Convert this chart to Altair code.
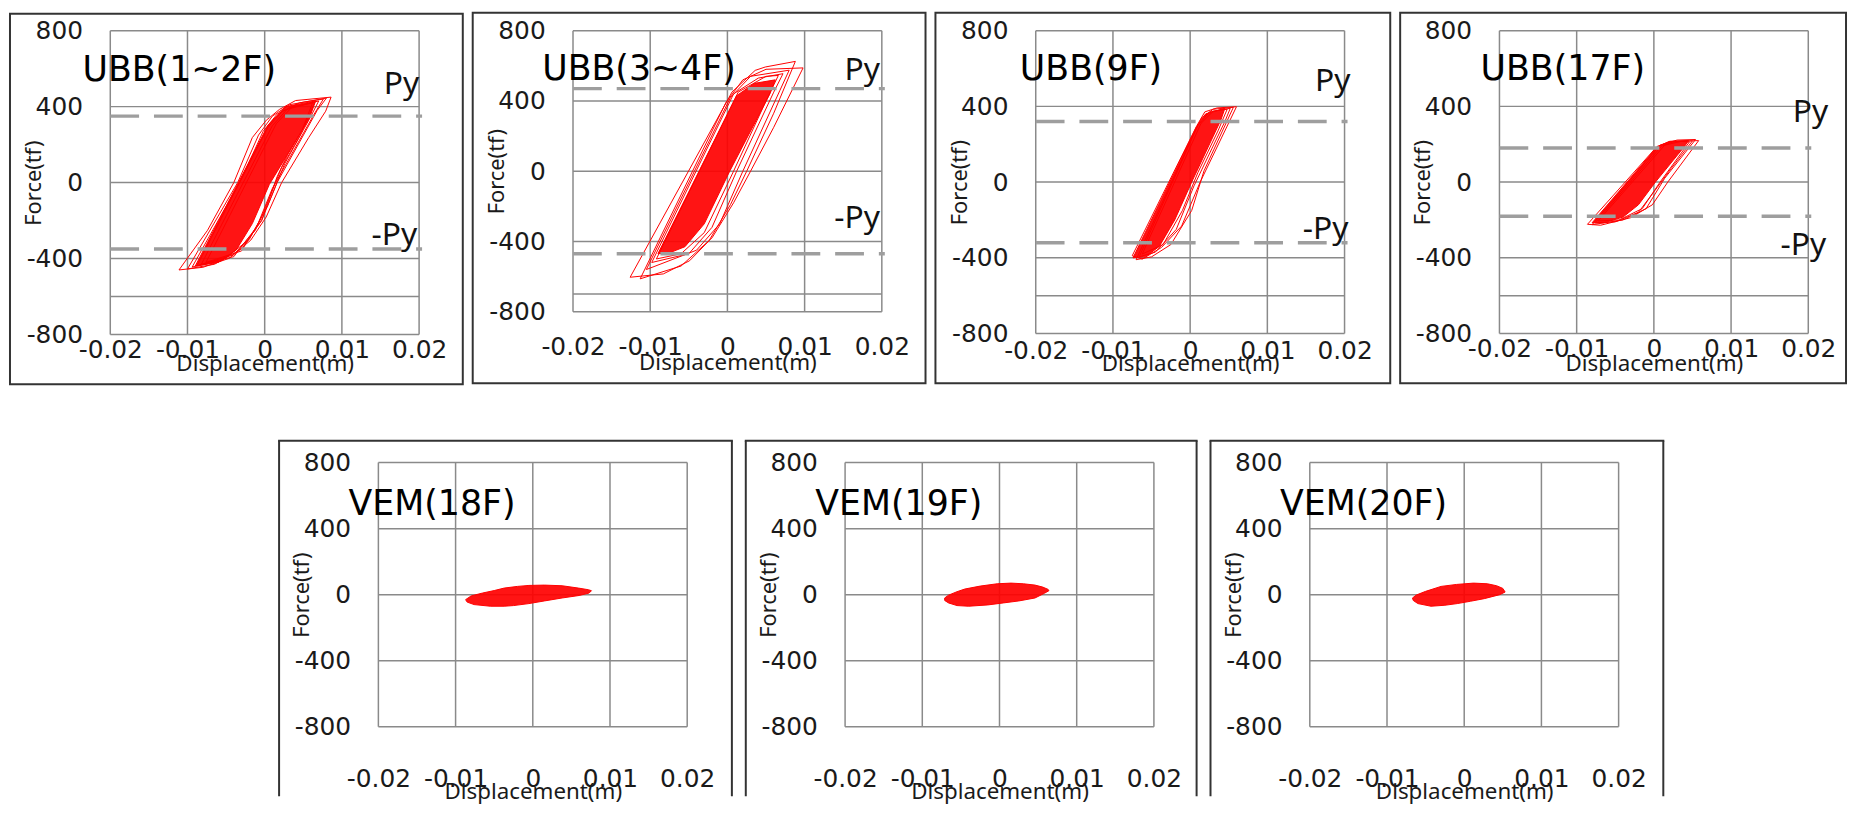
import altair as alt
import pandas as pd

# ---------------- data ----------------
X_TICKS = [-0.02, -0.01, 0.0, 0.01, 0.02]
Y_TICKS = [800, 400, 0, -400, -800]
Y_GRID_A = [800, 400, 0, -400, -600, -800]
Y_GRID_B = [800, 400, 0, -400, -700, -800]
Y_GRID_C = [800, 400, 0, -400, -800]

TITLES = ["UBB(1~2F)", "UBB(3~4F)", "UBB(9F)", "UBB(17F)", "VEM(18F)", "VEM(19F)", "VEM(20F)"]
PY = [350, 470, 320, 180]

UBB12_CORE = [(-0.0090, -440), (0.0004, 300), (0.0027, 400), (0.0066, 430), (0.0058, 340),
              (0.0006, -10), (-0.0016, -216), (-0.0037, -356), (-0.0060, -420), (-0.0090, -440)]
UBB12_LOOPS = [
    [(-0.0111, -460), (-0.0074, -251), (-0.0040, 0), (-0.0016, 237), (0.0002, 328), (0.0019, 385),
     (0.0040, 432), (0.0086, 450), (0.0079, 376), (0.0057, 237), (0.0022, 0), (0.0002, -181),
     (-0.0018, -303), (-0.0046, -399), (-0.0080, -446), (-0.0111, -460)],
    [(-0.0100, -455), (-0.0035, 0), (-0.0008, 250), (0.0010, 350), (0.0032, 410), (0.0080, 445),
     (0.0068, 380), (0.0016, 0), (-0.0004, -200), (-0.0030, -350), (-0.0065, -430), (-0.0100, -455)],
    [(-0.0094, -445), (-0.0030, 20), (-0.0002, 270), (0.0016, 360), (0.0045, 420), (0.0076, 440),
     (0.0064, 360), (0.0010, -30), (-0.0012, -250), (-0.0040, -380), (-0.0094, -445)],
    [(-0.0088, -440), (0.0004, 290), (0.0024, 380), (0.0070, 430), (0.0060, 350), (0.0026, 100),
     (0.0004, -120), (-0.0020, -300), (-0.0055, -410), (-0.0088, -440)],
    [(-0.0082, -430), (0.0010, 300), (0.0030, 390), (0.0065, 425), (0.0052, 300), (0.0030, 150),
     (0.0016, 30), (-0.0004, -200), (-0.0040, -390), (-0.0082, -430)],
    [(-0.0076, -420), (0.0015, 310), (0.0036, 400), (0.0062, 420), (0.0046, 250), (0.0022, 80),
     (-0.0006, -200), (-0.0030, -360), (-0.0076, -420)],
]

UBB34_CORE = [(-0.0090, -470), (0.0012, 430), (0.0035, 500), (0.0062, 520), (0.0055, 440),
              (0.0003, 0), (-0.0030, -300), (-0.0055, -430), (-0.0075, -465), (-0.0090, -470)]
UBB34_LOOPS = [
    [(-0.0126, -604), (0.0006, 451), (0.0036, 574), (0.0049, 593), (0.0088, 625), (0.0060, 330),
     (0.0025, 0), (0.0004, -190), (-0.0024, -397), (-0.0049, -510), (-0.0083, -585), (-0.0126, -604)],
    [(-0.0113, -613), (-0.0002, 390), (0.0020, 520), (0.0050, 580), (0.0098, 588), (0.0060, 250),
     (0.0030, 0), (0.0008, -180), (-0.0020, -380), (-0.0060, -540), (-0.0113, -613)],
    [(-0.0105, -560), (0.0004, 420), (0.0030, 540), (0.0080, 575), (0.0068, 460), (0.0020, 0),
     (-0.0010, -300), (-0.0040, -450), (-0.0105, -560)],
    [(-0.0098, -520), (0.0008, 440), (0.0040, 530), (0.0072, 555), (0.0060, 450), (0.0012, 0),
     (-0.0020, -320), (-0.0050, -470), (-0.0098, -520)],
    [(-0.0092, -500), (0.0014, 450), (0.0050, 540), (0.0066, 545), (0.0050, 400), (0.0008, 0),
     (-0.0030, -350), (-0.0060, -470), (-0.0092, -500)],
]

UBB9_CORE = [(-0.0074, -400), (0.0008, 290), (0.0020, 360), (0.0045, 390), (0.0040, 330),
             (0.0002, 0), (-0.0020, -200), (-0.0040, -340), (-0.0058, -395), (-0.0074, -400)]
UBB9_LOOPS = [
    [(-0.0075, -389), (0.0008, 293), (0.0019, 371), (0.0035, 392), (0.0060, 398), (0.0013, 0),
     (-0.0011, -232), (-0.0037, -345), (-0.0062, -407), (-0.0075, -389)],
    [(-0.0070, -410), (0.0004, 250), (0.0015, 340), (0.0030, 385), (0.0056, 395), (0.0018, 60),
     (0.0002, -150), (-0.0025, -330), (-0.0050, -395), (-0.0070, -410)],
    [(-0.0066, -395), (0.0010, 300), (0.0025, 370), (0.0052, 390), (0.0045, 320), (0.0005, -20),
     (-0.0018, -250), (-0.0045, -370), (-0.0066, -395)],
    [(-0.0062, -380), (0.0014, 310), (0.0030, 375), (0.0048, 385), (0.0036, 270), (0.0010, 50),
     (-0.0010, -150), (-0.0035, -330), (-0.0062, -380)],
]

UBB17_CORE = [(-0.0080, -215), (0.0004, 185), (0.0020, 215), (0.0045, 220), (0.0040, 190),
              (0.0002, 0), (-0.0020, -120), (-0.0040, -185), (-0.0065, -215), (-0.0080, -215)]
UBB17_LOOPS = [
    [(-0.0086, -223), (0.0004, 188), (0.0021, 215), (0.0058, 219), (0.0018, 0), (-0.0002, -120),
     (-0.0030, -188), (-0.0069, -228), (-0.0086, -223)],
    [(-0.0080, -225), (0.0008, 195), (0.0030, 222), (0.0054, 225), (0.0014, 20), (-0.0010, -140),
     (-0.0040, -200), (-0.0080, -225)],
    [(-0.0076, -215), (0.0010, 190), (0.0025, 212), (0.0050, 218), (0.0022, 70), (0.0004, -30),
     (-0.0020, -160), (-0.0050, -210), (-0.0076, -215)],
    [(-0.0072, -205), (0.0014, 195), (0.0035, 215), (0.0046, 212), (0.0008, 0), (-0.0015, -140),
     (-0.0045, -200), (-0.0072, -205)],
]

VEM18_CORE = [(-0.0087, -30), (-0.0080, -8), (-0.0065, 10), (-0.0050, 25), (-0.0037, 40), (-0.0020, 50),
              (-0.0005, 56), (0.0015, 58), (0.0038, 54), (0.0059, 40), (0.0072, 30), (0.0076, 24),
              (0.0073, 10), (0.0060, -5), (0.0038, -20), (0.0015, -38), (-0.0005, -54), (-0.0025, -66),
              (-0.0037, -70), (-0.0055, -70), (-0.0076, -60), (-0.0085, -45), (-0.0087, -30)]
VEM19_CORE = [(-0.0071, -20), (-0.0066, -3), (-0.0055, 18), (-0.0045, 34), (-0.0025, 52), (-0.0003, 66),
              (0.0015, 70), (0.0031, 66), (0.0046, 58), (0.0056, 46), (0.0063, 32), (0.0064, 24),
              (0.0058, 8), (0.0046, -20), (0.0025, -38), (0.0005, -50), (-0.0015, -62), (-0.0040, -70),
              (-0.0055, -66), (-0.0066, -50), (-0.0071, -35), (-0.0071, -20)]
VEM20_CORE = [(-0.0067, -20), (-0.0062, -2), (-0.0050, 20), (-0.0030, 50), (-0.0010, 62), (0.0012, 70),
              (0.0030, 66), (0.0042, 54), (0.0050, 38), (0.0053, 16), (0.0046, 0), (0.0026, -24),
              (0.0008, -40), (-0.0009, -54), (-0.0025, -64), (-0.0043, -70), (-0.0060, -54),
              (-0.0066, -35), (-0.0067, -20)]

CORES = [UBB12_CORE, UBB34_CORE, UBB9_CORE, UBB17_CORE, VEM18_CORE, VEM19_CORE, VEM20_CORE]
LOOPS = [UBB12_LOOPS, UBB34_LOOPS, UBB9_LOOPS, UBB17_LOOPS, [], [], []]

# ---------------- styling / layout ----------------
FONT = "Noto Sans"
TICK_FONT = "DejaVu Sans"
TITLE_FONT = "DejaVu Sans"
TXT = "#1a1a1a"
GRID = "#8a8a8a"
RED = "#ff0000"
FRAME = "#333333"

GEOM = [
    dict(w=311, h=306, grid=Y_GRID_A, frame=(-101, 355, -17, 356), lpad=3, ty=36, tpos=(-28, 51),
         pypos=((311, 64), (309, 216))),
    dict(w=311, h=283, grid=Y_GRID_B, frame=(-101, 355, -18, 355), lpad=23, ty=58, tpos=(-31, 50),
         pypos=((309, 50), (309, 199))),
    dict(w=311, h=305, grid=Y_GRID_A, frame=(-101, 357, -18, 355), lpad=5, ty=37, tpos=(-16, 50),
         pypos=((317, 61), (315, 210))),
    dict(w=311, h=305, grid=Y_GRID_A, frame=(-100, 349, -18, 355), lpad=3, ty=37, tpos=(-19, 50),
         pypos=((331, 92), (329, 226))),
    dict(w=311, h=266, grid=Y_GRID_C, frame=(-100, 356, -22, 336), lpad=40, ty=72, tpos=(-30, 53)),
    dict(w=311, h=266, grid=Y_GRID_C, frame=(-100, 354, -22, 336), lpad=40, ty=72, tpos=(-30, 53)),
    dict(w=311, h=266, grid=Y_GRID_C, frame=(-100, 356, -22, 336), lpad=40, ty=72, tpos=(-30, 53)),
]


def poly_df(points, loop=0):
    return pd.DataFrame({"loop": [loop] * len(points), "seq": list(range(len(points))),
                         "x": [p[0] for p in points], "y": [p[1] for p in points]})


def make_panel(i):
    g = GEOM[i]
    W, H = g["w"], g["h"]
    xsc = alt.Scale(domain=[-0.02, 0.02], nice=False, zero=False)
    ysc = alt.Scale(domain=[-800, 800], nice=False, zero=False)

    x_axis = alt.Axis(values=X_TICKS, grid=False, ticks=False, domain=False, labelFlush=False,
                      labelOverlap=False, labelFont=TICK_FONT, labelFontSize=25, labelColor=TXT,
                      labelPadding=g["lpad"],
                      labelExpr="datum.value == 0 ? '0' : (datum.value < 0 ? '-' : '') + format(abs(datum.value), '.2f')",
                      title="Displacement(m)", titleFont=FONT, titleFontSize=22.5, titleFontWeight="normal",
                      titleColor=TXT, titleBaseline="alphabetic", titleY=g["ty"], titleX=W / 2)
    y_axis = alt.Axis(values=Y_TICKS, grid=False, ticks=False, domain=False, labelFlush=False,
                      labelOverlap=False, labelFont=TICK_FONT, labelFontSize=25, labelColor=TXT,
                      labelPadding=28,
                      labelExpr="(datum.value < 0 ? '-' : '') + format(abs(datum.value), 'd')",
                      title="Force(tf)", titleFont=FONT, titleFontSize=22, titleFontWeight="normal",
                      titleColor=TXT, titleAngle=270, titleX=-77, titleY=H / 2,
                      titleBaseline="middle", titleAlign="center")

    def X(f):
        return alt.X(f, scale=xsc, axis=x_axis)

    def Y(f):
        return alt.Y(f, scale=ysc, axis=y_axis)

    hgrid = alt.Chart(pd.DataFrame({"gy": g["grid"]})).mark_rule(color=GRID, strokeWidth=1.5).encode(
        y=Y("gy:Q"), x=alt.value(0), x2=alt.value(W))
    vgrid = alt.Chart(pd.DataFrame({"gx": X_TICKS})).mark_rule(color=GRID, strokeWidth=1.5).encode(
        x=X("gx:Q"), y=alt.value(0), y2=alt.value(H))

    core = alt.Chart(poly_df(CORES[i])).mark_line(
        fill=RED, fillOpacity=0.92, stroke=RED, strokeWidth=1).encode(
        x=X("x:Q"), y=Y("y:Q"), order="seq:Q")

    layers = [hgrid, vgrid, core]

    if LOOPS[i]:
        ldf = pd.concat([poly_df(pts, k) for k, pts in enumerate(LOOPS[i])], ignore_index=True)
        loops = alt.Chart(ldf).mark_line(color=RED, strokeWidth=1).encode(
            x=X("x:Q"), y=Y("y:Q"), detail="loop:N", order="seq:Q")
        layers.append(loops)

    if i < 4:
        py = PY[i]
        dashed = alt.Chart(pd.DataFrame({"py": [py, -py]})).mark_rule(
            color="#9e9e9e", strokeWidth=3.5, strokeDash=[29, 15]).encode(
            y=Y("py:Q"), x=alt.value(0), x2=alt.value(W + 3))
        layers.append(dashed)
        (px1, py1), (px2, py2) = g["pypos"]
        t1 = alt.Chart(pd.DataFrame({"t": ["Py"]})).mark_text(
            align="right", baseline="alphabetic", font=FONT, fontSize=32, color="#111111").encode(
            x=alt.value(px1), y=alt.value(py1), text="t:N")
        t2 = alt.Chart(pd.DataFrame({"t": ["-Py"]})).mark_text(
            align="right", baseline="alphabetic", font=FONT, fontSize=32, color="#111111").encode(
            x=alt.value(px2), y=alt.value(py2), text="t:N")
        layers += [t1, t2]

    title = alt.Chart(pd.DataFrame({"t": [TITLES[i]]})).mark_text(
        align="left", baseline="alphabetic", font=TITLE_FONT, fontSize=35, color="#000000").encode(
        x=alt.value(g["tpos"][0]), y=alt.value(g["tpos"][1]), text="t:N")
    layers.append(title)

    fl, fr, ft, fb = g["frame"]
    one = pd.DataFrame({"a": [0]})
    if i < 4:
        frame = alt.Chart(one).mark_rect(fill="transparent", stroke=FRAME, strokeWidth=2).encode(
            x=alt.value(fl), x2=alt.value(fr), y=alt.value(ft), y2=alt.value(fb))
        layers.append(frame)
    else:
        left = alt.Chart(one).mark_rule(color=FRAME, strokeWidth=2).encode(
            x=alt.value(fl), y=alt.value(ft), y2=alt.value(fb))
        right = alt.Chart(one).mark_rule(color=FRAME, strokeWidth=2).encode(
            x=alt.value(fr), y=alt.value(ft), y2=alt.value(fb))
        top = alt.Chart(one).mark_rule(color=FRAME, strokeWidth=2).encode(
            x=alt.value(fl - 1), x2=alt.value(fr + 1), y=alt.value(ft))
        layers += [left, right, top]

    return alt.layer(*layers).properties(width=W, height=H)


def spacer(w):
    return alt.Chart(pd.DataFrame({"a": [0]})).mark_point(opacity=0).encode(
        x=alt.value(0), y=alt.value(0)).properties(width=w, height=10)


panels = [make_panel(i) for i in range(7)]

top_row = alt.hconcat(*panels[:4], spacing=6)
bottom_row = alt.hconcat(spacer(158), *panels[4:], spacing=8)

chart = alt.vconcat(top_row, bottom_row, spacing=53).properties(
    padding=0, background="white"
).configure_view(stroke="transparent")

chart.save("out.html", embed_options={"renderer": "svg", "actions": False})
